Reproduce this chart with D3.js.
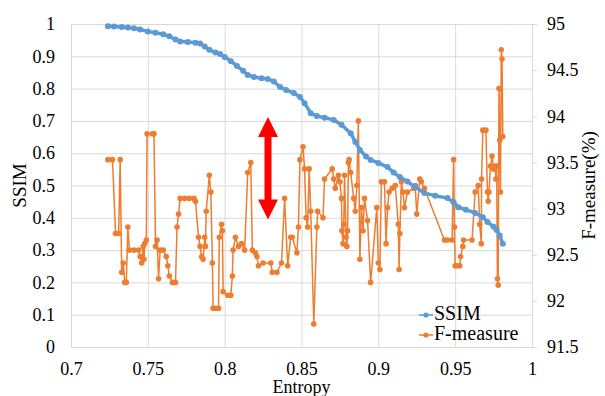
<!DOCTYPE html>
<html>
<head>
<meta charset="utf-8">
<script src="https://cdn.jsdelivr.net/npm/d3@7"></script>
<style>
  body { margin: 0; background: #fff; }
  svg text { font-family: "Liberation Serif", "DejaVu Serif", serif; fill: #000; }
</style>
</head>
<body>
<div id="chart"></div>
<script>
// SSIM curve (left axis)
const ssimEntropy = [0.724, 0.728, 0.733, 0.737, 0.741, 0.745, 0.750, 0.755, 0.760, 0.764,
  0.768, 0.771, 0.776, 0.781, 0.784, 0.787, 0.790, 0.794, 0.797, 0.800,
  0.804, 0.808, 0.812, 0.815, 0.819, 0.824, 0.828, 0.832, 0.836, 0.840,
  0.845, 0.849, 0.852, 0.856, 0.860, 0.865, 0.871, 0.876, 0.882, 0.885,
  0.888, 0.892, 0.895, 0.900, 0.906, 0.910, 0.914, 0.919, 0.924, 0.930,
  0.937, 0.945, 0.949, 0.952, 0.957, 0.963, 0.968, 0.971, 0.975, 0.977,
  0.979, 0.981];
const ssimValues = [0.993, 0.992, 0.991, 0.989, 0.987, 0.983, 0.977, 0.973, 0.968, 0.962,
  0.952, 0.946, 0.944, 0.942, 0.940, 0.930, 0.920, 0.912, 0.907, 0.898,
  0.885, 0.870, 0.855, 0.842, 0.836, 0.832, 0.830, 0.822, 0.805, 0.796,
  0.786, 0.774, 0.755, 0.724, 0.715, 0.710, 0.703, 0.688, 0.662, 0.635,
  0.610, 0.590, 0.579, 0.570, 0.557, 0.540, 0.526, 0.512, 0.495, 0.477,
  0.468, 0.461, 0.448, 0.433, 0.425, 0.415, 0.402, 0.387, 0.372, 0.362,
  0.345, 0.320];

// F-measure (right axis, %)
const fEntropy = [0.724, 0.727, 0.729, 0.731, 0.732, 0.733, 0.734, 0.735, 0.736, 0.737,
  0.738, 0.741, 0.744, 0.745, 0.746, 0.747, 0.7475, 0.748, 0.749, 0.7495,
  0.753, 0.754, 0.755, 0.756, 0.757, 0.758, 0.760, 0.762, 0.763, 0.764,
  0.766, 0.768, 0.769, 0.770, 0.771, 0.774, 0.777, 0.780, 0.781, 0.783,
  0.784, 0.785, 0.786, 0.787, 0.7875, 0.788, 0.790, 0.791, 0.792, 0.7925,
  0.794, 0.796, 0.7965, 0.798, 0.7985, 0.799, 0.802, 0.804, 0.805, 0.8055,
  0.807, 0.809, 0.811, 0.813, 0.815, 0.817, 0.818, 0.820, 0.821, 0.822,
  0.825, 0.830, 0.831, 0.834, 0.837, 0.839, 0.841, 0.843, 0.844, 0.847,
  0.848, 0.849, 0.851, 0.852, 0.853, 0.854, 0.855, 0.856, 0.858, 0.860,
  0.8605, 0.864, 0.865, 0.870, 0.871, 0.872, 0.874, 0.875, 0.876, 0.8763,
  0.877, 0.8775, 0.878, 0.879, 0.8795, 0.880, 0.8805, 0.881, 0.882, 0.884,
  0.885, 0.886, 0.887, 0.888, 0.889, 0.890, 0.891, 0.893, 0.895, 0.899,
  0.900, 0.901, 0.902, 0.904, 0.905, 0.906, 0.907, 0.909, 0.911, 0.913,
  0.9135, 0.914, 0.915, 0.916, 0.917, 0.919, 0.923, 0.924, 0.925, 0.927,
  0.928, 0.930, 0.943, 0.945, 0.948, 0.949, 0.9495, 0.950, 0.951, 0.953,
  0.9535, 0.955, 0.9555, 0.961, 0.963, 0.965, 0.966, 0.967, 0.9672, 0.968,
  0.970, 0.971, 0.9715, 0.972, 0.973, 0.974, 0.975, 0.976, 0.9765, 0.977,
  0.9775, 0.978, 0.9785, 0.979, 0.9795, 0.980, 0.9805, 0.981];
const fValues = [93.53, 93.53, 92.73, 92.73, 93.53, 92.31, 92.41, 92.20, 92.20, 92.80,
  92.55, 92.55, 92.55, 92.48, 92.41, 92.59, 92.45, 92.62, 92.66, 93.81,
  93.81, 93.81, 92.59, 92.66, 92.24, 92.55, 92.55, 92.48, 92.38, 92.27,
  92.20, 92.20, 92.80, 92.94, 93.11, 93.11, 93.11, 93.11, 93.08, 92.69,
  92.59, 92.48, 92.45, 92.69, 92.59, 92.97, 93.36, 93.18, 92.41, 91.92,
  91.92, 91.92, 92.69, 92.83, 92.76, 92.10, 92.06, 92.06, 92.27, 92.55,
  92.69, 92.59, 92.62, 92.55, 93.39, 93.50, 92.55, 92.52, 92.48, 92.38,
  92.41, 92.41, 92.31, 92.31, 92.41, 93.11, 92.38, 92.69, 92.69, 92.52,
  92.80, 93.53, 93.67, 93.43, 92.90, 92.80, 93.43, 92.97, 91.75, 92.80,
  92.97, 92.90, 93.32, 93.43, 93.32, 93.22, 93.36, 93.29, 93.11, 92.76,
  92.62, 92.83, 93.36, 92.69, 92.59, 92.76, 93.50, 93.53, 93.39, 93.11,
  92.97, 93.25, 93.95, 92.45, 93.01, 92.76, 93.11, 92.87, 92.20, 93.01,
  92.41, 92.34, 93.29, 93.29, 92.62, 93.01, 93.18, 93.22, 93.25, 92.83,
  92.34, 92.73, 93.29, 93.18, 93.01, 93.18, 93.22, 93.25, 92.94, 93.32,
  93.29, 93.22, 92.66, 92.66, 92.66, 93.53, 92.80, 92.38, 92.38, 92.38,
  92.48, 92.59, 92.66, 92.66, 93.18, 93.25, 92.83, 92.62, 93.32, 93.85,
  93.85, 93.18, 93.08, 93.18, 93.46, 93.57, 93.43, 93.46, 93.32, 93.46,
  92.24, 92.17, 94.30, 93.74, 93.18, 94.72, 94.62, 93.78];

const xTicks = [0.7, 0.75, 0.8, 0.85, 0.9, 0.95, 1];
const yLeftTicks = [0, 0.1, 0.2, 0.3, 0.4, 0.5, 0.6, 0.7, 0.8, 0.9, 1];
const yRightTicks = [91.5, 92, 92.5, 93, 93.5, 94, 94.5, 95];
const seriesNames = ['SSIM', 'F-measure'];
const arrowSpan = { entropy: 0.8282, from: 0.395, to: 0.712 };

const width = 605, height = 396;
const margin = { top: 24, right: 73, bottom: 49, left: 71 };
const blue = '#5B9BD5', orange = '#ED7D31', grid = '#D9D9D9';

const svg = d3.select('#chart').append('svg')
  .attr('width', width)
  .attr('height', height);

const x = d3.scaleLinear().domain([0.7, 1]).range([margin.left, width - margin.right]);
const yL = d3.scaleLinear().domain([0, 1]).range([height - margin.bottom, margin.top]);
const yR = d3.scaleLinear().domain([91.5, 95]).range([height - margin.bottom, margin.top]);

// gridlines
svg.append('g')
  .attr('transform', `translate(0, ${height - margin.bottom})`)
  .call(d3.axisBottom(x).tickValues(xTicks).tickSize(-(height - margin.top - margin.bottom)).tickFormat(''))
  .call(g => g.select('.domain').remove())
  .call(g => g.selectAll('line').attr('stroke', grid));

svg.append('g')
  .attr('transform', `translate(${margin.left}, 0)`)
  .call(d3.axisLeft(yL).tickValues(yLeftTicks).tickSize(-(width - margin.left - margin.right)).tickFormat(''))
  .call(g => g.select('.domain').remove())
  .call(g => g.selectAll('line').attr('stroke', grid));

// tick labels
svg.append('g')
  .attr('transform', `translate(0, ${height - margin.bottom})`)
  .call(d3.axisBottom(x).tickValues(xTicks).tickSize(0).tickPadding(15).tickFormat(d3.format('')))
  .call(g => g.select('.domain').remove())
  .call(g => g.selectAll('text').style('font-size', '18px').attr('fill', '#000'));

svg.append('g')
  .attr('transform', `translate(${margin.left}, 0)`)
  .call(d3.axisLeft(yL).tickValues(yLeftTicks).tickSize(0).tickPadding(16).tickFormat(d3.format('')))
  .call(g => g.select('.domain').remove())
  .call(g => g.selectAll('text').style('font-size', '18px').attr('fill', '#000'));

svg.append('g')
  .attr('transform', `translate(${width - margin.right}, 0)`)
  .call(d3.axisRight(yR).tickValues(yRightTicks).tickSize(5).tickPadding(10).tickFormat(d3.format('')))
  .call(g => g.select('.domain').attr('stroke', grid))
  .call(g => g.selectAll('line').attr('stroke', grid))
  .call(g => g.selectAll('text').style('font-size', '18px').attr('fill', '#000'));

// axis titles
svg.append('text')
  .attr('transform', `translate(22, ${(margin.top + height - margin.bottom) / 2}) rotate(-90)`)
  .attr('text-anchor', 'middle')
  .attr('dominant-baseline', 'middle')
  .style('font-size', '19px')
  .text('SSIM');

svg.append('text')
  .attr('transform', `translate(591, ${(margin.top + height - margin.bottom) / 2}) rotate(-90)`)
  .attr('text-anchor', 'middle')
  .attr('dominant-baseline', 'middle')
  .style('font-size', '19px')
  .text('F-measure(%)');

svg.append('text')
  .attr('x', (margin.left + width - margin.right) / 2)
  .attr('y', 393)
  .attr('text-anchor', 'middle')
  .style('font-size', '18px')
  .text('Entropy');

// series
const ssimData = ssimEntropy.map((e, i) => [e, ssimValues[i]]);
const fData = fEntropy.map((e, i) => [e, fValues[i]]);

svg.append('path')
  .datum(fData)
  .attr('fill', 'none')
  .attr('stroke', orange)
  .attr('stroke-width', 1.5)
  .attr('d', d3.line().x(d => x(d[0])).y(d => yR(d[1])));

svg.append('g').selectAll('circle')
  .data(fData)
  .enter().append('circle')
  .attr('cx', d => x(d[0]))
  .attr('cy', d => yR(d[1]))
  .attr('r', 2.8)
  .attr('fill', orange);

svg.append('path')
  .datum(ssimData)
  .attr('fill', 'none')
  .attr('stroke', blue)
  .attr('stroke-width', 3.5)
  .attr('stroke-linejoin', 'round')
  .attr('d', d3.line().x(d => x(d[0])).y(d => yL(d[1])));

svg.append('g').selectAll('circle')
  .data(ssimData)
  .enter().append('circle')
  .attr('cx', d => x(d[0]))
  .attr('cy', d => yL(d[1]))
  .attr('r', 3)
  .attr('fill', blue);

// red double arrow
const ax = x(arrowSpan.entropy);
const yTop = yL(arrowSpan.to), yBot = yL(arrowSpan.from);
const head = 20, hw = 10, sw = 3.5;
svg.append('path')
  .attr('fill', '#FF0000')
  .attr('d', `M${ax},${yTop} L${ax + hw},${yTop + head} L${ax + sw},${yTop + head}
    L${ax + sw},${yBot - head} L${ax + hw},${yBot - head} L${ax},${yBot}
    L${ax - hw},${yBot - head} L${ax - sw},${yBot - head} L${ax - sw},${yTop + head}
    L${ax - hw},${yTop + head} Z`);

// legend
const legend = svg.append('g').attr('transform', 'translate(419, 315)');
seriesNames.forEach((name, i) => {
  const c = i === 0 ? blue : orange;
  const g = legend.append('g').attr('transform', `translate(0, ${i * 20})`);
  g.append('line').attr('x1', 0).attr('x2', 14).attr('stroke', c).attr('stroke-width', 1.5);
  g.append('circle').attr('cx', 7).attr('r', 2.6).attr('fill', c);
  g.append('text')
    .attr('x', 15)
    .attr('dominant-baseline', 'middle')
    .style('font-size', '20px')
    .text(name);
});
</script>
</body>
</html>
